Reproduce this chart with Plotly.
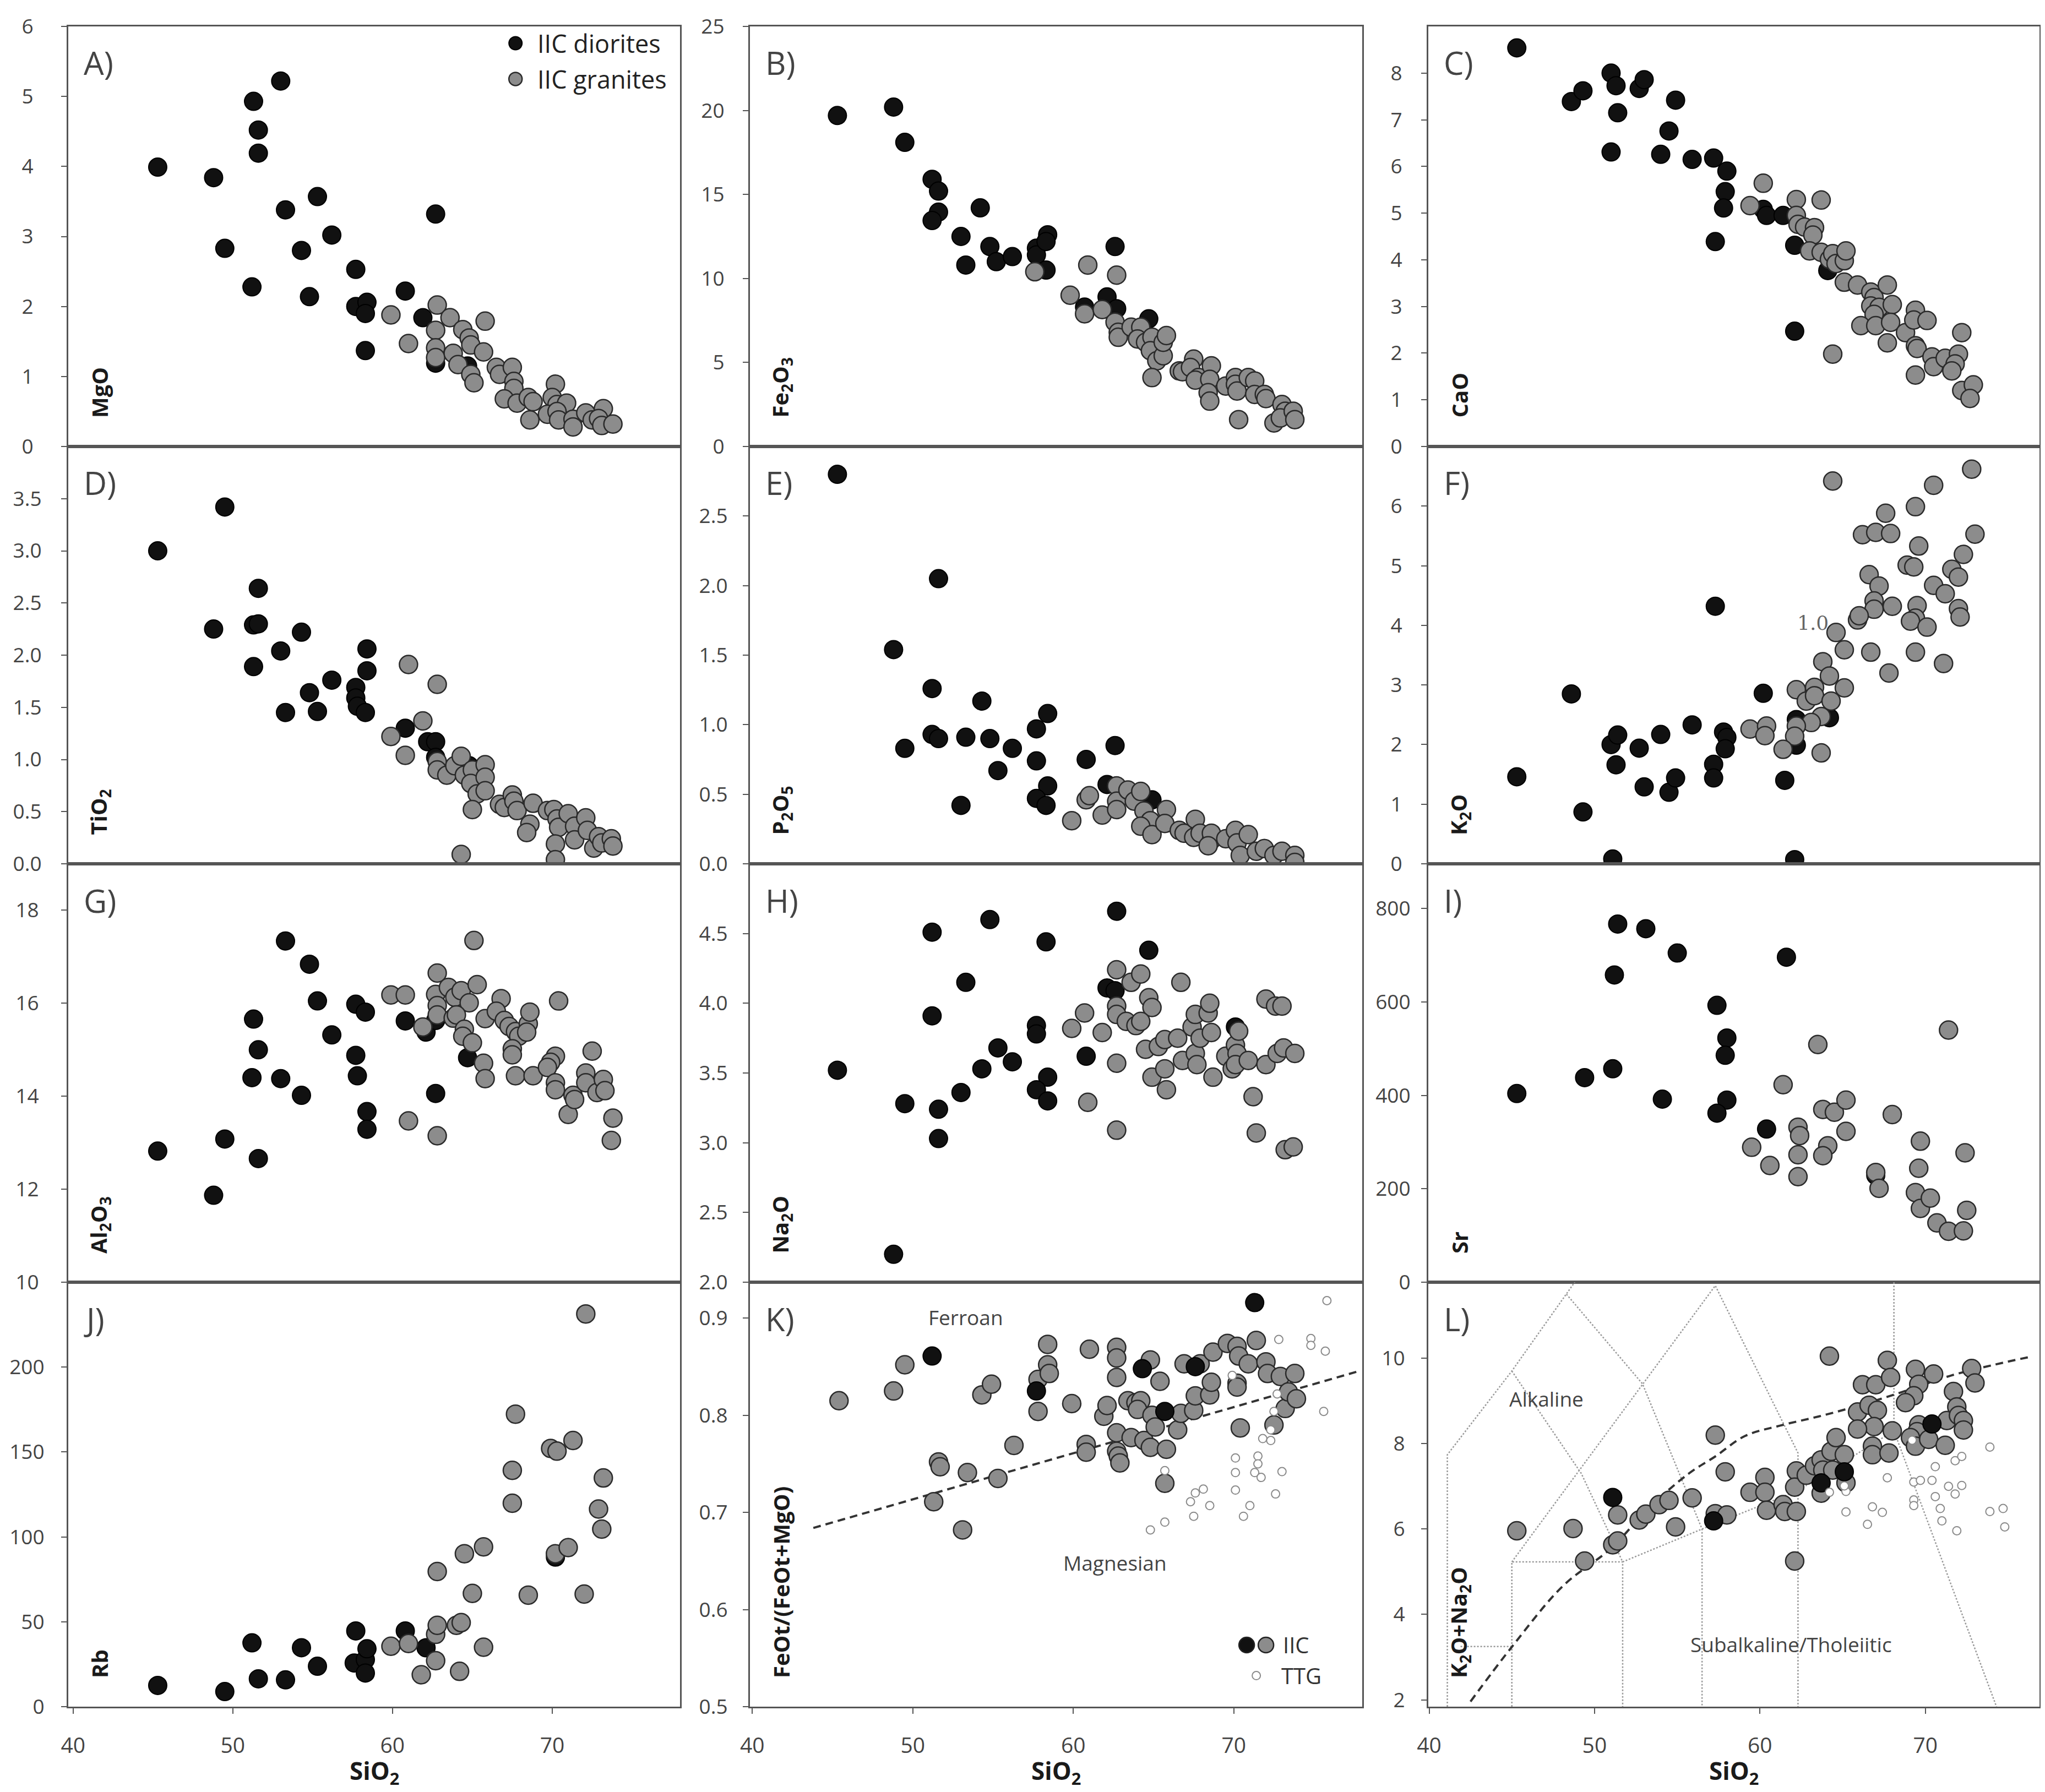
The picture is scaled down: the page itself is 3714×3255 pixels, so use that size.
import plotly.graph_objects as go

W, H = 3714, 3255

# ---------------- data ----------------
# A) MgO
mgo_dio_si = [45.3, 48.8, 49.5, 51.3, 51.6, 51.6, 51.2, 53.0, 53.3, 55.3, 54.3, 54.8, 56.2, 57.7, 57.7, 58.4, 58.3, 58.3, 60.8, 62.7, 61.9, 62.7, 64.7]
mgo_dio = [3.99, 3.84, 2.83, 4.93, 4.52, 4.19, 2.28, 5.22, 3.38, 3.57, 2.80, 2.14, 3.02, 2.53, 2.00, 2.06, 1.90, 1.37, 2.22, 3.32, 1.84, 1.19, 1.15]
mgo_gra_si = [59.9, 61.0, 62.8, 63.6, 62.7, 62.7, 62.7, 63.8, 64.4, 64.8, 64.9, 65.7, 65.8, 64.1, 64.9, 65.1, 66.5, 66.7, 67.5, 67.6,
              67.6, 67.0, 67.8, 68.5, 68.8, 68.6, 70.2, 70.0, 70.3, 70.9, 69.7, 70.3, 70.4, 71.3, 71.3, 72.1, 72.5, 73.2, 72.9, 73.1, 73.8]
mgo_gra = [1.88, 1.47, 2.02, 1.84, 1.66, 1.41, 1.27, 1.33, 1.67, 1.55, 1.45, 1.35, 1.79, 1.17, 1.03, 0.91, 1.13, 1.03, 1.13, 0.93,
           0.83, 0.68, 0.62, 0.70, 0.64, 0.38, 0.89, 0.70, 0.60, 0.62, 0.46, 0.50, 0.38, 0.39, 0.28, 0.48, 0.38, 0.54, 0.40, 0.30, 0.32]

# B) Fe2O3
fe_dio_si = [45.3, 48.8, 49.5, 51.2, 51.6, 51.6, 51.2, 54.2, 53.0, 53.3, 54.8, 55.2, 56.2, 57.7, 57.7, 58.4, 58.3, 58.3, 62.6, 62.1, 62.7, 60.7, 64.7]
fe_dio = [19.7, 20.2, 18.1, 15.9, 15.2, 13.95, 13.45, 14.2, 12.5, 10.8, 11.9, 11.0, 11.3, 11.8, 11.4, 12.6, 12.2, 10.5, 11.9, 8.9, 8.2, 8.3, 7.6]
fe_gra_si = [57.6, 60.9, 62.7, 59.8, 60.7, 61.8, 62.6, 62.8, 62.8, 63.6, 64.2, 64.0, 64.5, 64.9, 64.8, 65.2, 65.6, 65.6, 65.8, 64.9,
             66.6, 66.8, 67.5, 67.3, 67.8, 67.6, 68.6, 68.5, 68.4, 68.5, 69.5, 70.1, 70.1, 70.2, 70.9, 71.3, 71.3, 71.9, 72.0, 70.3,
             72.5, 73.0, 73.2, 72.9, 73.7, 73.8]
fe_gra = [10.4, 10.8, 10.2, 9.0, 7.9, 8.15, 7.4, 6.8, 6.5, 7.1, 7.1, 6.4, 6.2, 6.5, 5.7, 5.1, 5.4, 6.2, 6.6, 4.1,
          4.5, 4.45, 5.2, 4.7, 4.1, 3.95, 4.8, 4.0, 3.2, 2.7, 3.6, 4.1, 3.7, 3.3, 4.1, 3.9, 3.1, 3.1, 2.85, 1.6,
          1.4, 2.5, 2.1, 1.7, 2.1, 1.6]

# C) CaO
cao_dio_si = [45.3, 48.6, 49.3, 51.0, 51.3, 51.4, 51.0, 52.7, 53.0, 54.9, 54.5, 54.0, 55.9, 57.2, 58.0, 57.9, 57.8, 57.3, 60.2, 60.4, 61.4, 62.1, 64.1, 62.1]
cao_dio = [8.54, 7.39, 7.62, 8.0, 7.73, 7.15, 6.31, 7.67, 7.86, 7.42, 6.76, 6.26, 6.15, 6.18, 5.9, 5.46, 5.11, 4.39, 5.08, 4.95, 4.95, 4.31, 3.77, 2.47]
cao_gra_si = [60.2, 59.4, 62.2, 63.7, 62.2, 62.3, 62.7, 63.3, 63.2, 63.0, 63.7, 64.2, 64.4, 64.6, 65.1, 65.2, 65.1, 65.9, 66.7, 66.9,
              66.7, 67.2, 67.7, 68.0, 66.9, 66.1, 67.0, 67.9, 68.8, 67.7, 69.4, 69.3, 70.1, 69.4, 69.5, 64.4, 69.4, 70.4, 70.5, 71.2,
              72.0, 71.8, 71.6, 72.2, 72.2, 72.9, 72.7]
cao_gra = [5.64, 5.16, 5.29, 5.28, 4.95, 4.76, 4.70, 4.69, 4.53, 4.19, 4.16, 4.01, 4.13, 3.92, 3.98, 4.19, 3.52, 3.46, 3.31, 3.19,
           3.01, 2.98, 3.46, 3.04, 2.83, 2.59, 2.59, 2.66, 2.44, 2.22, 2.92, 2.71, 2.70, 2.16, 2.10, 1.98, 1.53, 1.92, 1.71, 1.89,
           1.98, 1.77, 1.62, 2.44, 1.20, 1.32, 1.03]

# D) TiO2
ti_dio_si = [45.3, 49.5, 48.8, 51.6, 51.3, 51.6, 51.3, 53.0, 54.3, 53.3, 54.8, 55.3, 56.2, 57.7, 57.7, 57.8, 58.3, 58.4, 58.4, 60.8, 62.2, 62.7, 62.7, 64.8]
ti_dio = [3.0, 3.42, 2.25, 2.64, 2.29, 2.30, 1.89, 2.04, 2.22, 1.45, 1.64, 1.46, 1.76, 1.69, 1.59, 1.51, 1.45, 2.06, 1.85, 1.30, 1.17, 1.17, 1.02, 0.94]
ti_gra_si = [61.0, 62.8, 61.9, 59.9, 60.8, 62.8, 62.8, 63.4, 63.9, 64.3, 64.5, 65.0, 64.9, 65.3, 65.8, 65.8, 65.8, 65.0, 64.3, 66.7,
             67.0, 67.5, 67.6, 67.8, 68.8, 68.6, 68.4, 69.7, 70.1, 70.3, 70.4, 71.0, 70.2, 70.2, 71.4, 71.4, 72.1, 72.2, 72.6, 72.9,
             73.1, 73.7, 73.8]
ti_gra = [1.91, 1.72, 1.37, 1.22, 1.04, 0.98, 0.90, 0.85, 0.94, 1.03, 0.85, 0.90, 0.77, 0.67, 0.95, 0.83, 0.70, 0.52, 0.09, 0.57,
          0.54, 0.66, 0.60, 0.51, 0.58, 0.38, 0.30, 0.51, 0.52, 0.43, 0.35, 0.48, 0.19, 0.04, 0.36, 0.23, 0.44, 0.32, 0.15, 0.26,
          0.20, 0.24, 0.17]

# E) P2O5
p_dio_si = [45.3, 48.8, 49.5, 51.2, 51.6, 51.2, 51.6, 53.0, 53.3, 54.3, 54.8, 55.3, 56.2, 57.7, 57.7, 58.4, 58.4, 57.7, 58.3, 60.8, 62.6, 62.1, 64.9]
p_dio = [2.80, 1.54, 0.83, 1.26, 2.05, 0.93, 0.90, 0.42, 0.91, 1.17, 0.90, 0.67, 0.83, 0.97, 0.74, 1.08, 0.56, 0.47, 0.42, 0.75, 0.85, 0.57, 0.46]
p_gra_si = [59.9, 60.8, 61.0, 61.8, 62.7, 62.7, 62.7, 63.4, 63.8, 64.2, 64.4, 64.8, 64.2, 64.9, 65.8, 65.7, 66.6, 66.9, 67.6, 67.5,
            67.9, 68.6, 68.6, 68.4, 69.5, 70.1, 70.2, 70.4, 70.9, 71.4, 71.9, 72.5, 73.0, 73.8, 73.8]
p_gra = [0.31, 0.46, 0.49, 0.35, 0.56, 0.45, 0.39, 0.53, 0.45, 0.52, 0.38, 0.31, 0.27, 0.21, 0.39, 0.29, 0.24, 0.22, 0.32, 0.19,
         0.22, 0.17, 0.22, 0.13, 0.18, 0.24, 0.15, 0.06, 0.21, 0.09, 0.11, 0.06, 0.09, 0.06, 0.01]

# F) K2O
k_dio_si = [45.3, 48.6, 49.3, 51.0, 51.4, 51.3, 51.1, 52.7, 53.0, 54.0, 54.5, 54.9, 55.9, 57.3, 57.2, 57.2, 57.8, 58.0, 57.9, 60.2, 61.5, 62.2, 62.1, 64.2, 62.2]
k_dio = [1.46, 2.85, 0.87, 2.0, 2.16, 1.66, 0.08, 1.94, 1.29, 2.17, 1.20, 1.44, 2.33, 4.32, 1.67, 1.44, 2.21, 2.12, 1.93, 2.86, 1.40, 1.99, 0.07, 2.45, 2.42]
k_gra_si = [64.4, 72.8, 70.5, 69.4, 67.6, 66.2, 67.0, 67.9, 73.0, 69.6, 68.9, 69.3, 72.3, 66.6, 67.2, 71.6, 72.0, 70.5, 71.2, 66.9,
            66.9, 68.0, 69.5, 69.4, 69.1, 70.1, 72.0, 72.1, 65.9, 66.0, 64.6, 65.1, 66.7, 69.4, 71.1, 67.8, 63.8, 64.2, 65.1, 63.3,
            62.2, 62.8, 63.3, 64.3, 63.7, 63.1, 62.2, 62.1, 59.4, 60.4, 60.3, 61.4, 63.7]
k_gra = [6.42, 6.62, 6.35, 5.99, 5.88, 5.52, 5.56, 5.54, 5.53, 5.33, 5.01, 4.98, 5.19, 4.85, 4.66, 4.94, 4.81, 4.67, 4.53, 4.41,
         4.27, 4.32, 4.33, 4.12, 4.07, 3.97, 4.28, 4.14, 4.09, 4.16, 3.88, 3.59, 3.55, 3.55, 3.36, 3.20, 3.39, 3.15, 2.95, 2.96,
         2.92, 2.73, 2.82, 2.73, 2.47, 2.37, 2.31, 2.14, 2.26, 2.31, 2.15, 1.92, 1.86]

# G) Al2O3
al_dio_si = [45.3, 48.8, 49.5, 51.3, 51.6, 51.2, 51.6, 53.3, 53.0, 54.3, 54.8, 55.3, 56.2, 57.7, 58.3, 57.7, 57.8, 58.4, 58.4, 60.8, 62.1, 62.7, 62.7, 64.7]
al_dio = [12.82, 11.87, 13.08, 15.66, 15.0, 14.40, 12.66, 17.34, 14.38, 14.02, 16.84, 16.05, 15.32, 15.98, 15.81, 14.88, 14.44, 13.67, 13.29, 15.62, 15.38, 15.63, 14.06, 14.83]
al_gra_si = [59.9, 60.8, 61.9, 61.0, 62.8, 62.7, 62.8, 62.8, 62.8, 63.5, 63.9, 64.3, 64.8, 63.8, 64.0, 64.5, 64.4, 65.0, 65.1, 65.3,
             65.8, 65.7, 65.8, 66.8, 66.5, 67.0, 67.3, 67.7, 67.9, 68.5, 68.6, 68.4, 67.5, 67.5, 67.7, 68.8, 70.4, 70.2, 69.9, 69.7,
             70.2, 70.2, 71.0, 71.3, 71.4, 72.1, 72.1, 72.5, 72.8, 73.2, 73.3, 73.8, 73.7]
al_gra = [16.18, 16.18, 15.49, 13.47, 16.65, 16.19, 15.95, 15.75, 13.15, 16.34, 16.13, 16.27, 16.01, 15.68, 15.75, 15.44, 15.29, 15.15, 17.35, 16.40,
          15.67, 14.71, 14.38, 16.10, 15.83, 15.63, 15.50, 15.39, 15.29, 15.56, 15.81, 15.38, 15.02, 14.89, 14.44, 14.44, 16.05, 14.86, 14.73, 14.62,
          14.29, 14.14, 13.61, 14.02, 13.93, 14.50, 14.29, 14.97, 14.08, 14.36, 14.12, 13.53, 13.05]

# H) Na2O
na_dio_si = [45.3, 48.8, 49.5, 51.2, 51.2, 51.6, 51.6, 53.0, 53.3, 54.3, 54.8, 55.3, 56.2, 57.7, 57.7, 58.3, 58.4, 57.7, 58.4, 60.8, 62.1, 62.6, 62.7, 64.7, 70.1]
na_dio = [3.52, 2.20, 3.28, 4.51, 3.91, 3.24, 3.03, 3.36, 4.15, 3.53, 4.60, 3.68, 3.58, 3.84, 3.78, 4.44, 3.47, 3.38, 3.30, 3.62, 4.11, 4.09, 4.66, 4.38, 3.83]
na_gra_si = [59.9, 60.7, 61.8, 60.9, 62.7, 62.7, 62.7, 62.7, 62.7, 63.6, 64.2, 64.7, 64.9, 63.3, 63.9, 64.2, 64.5, 65.3, 65.7, 64.9,
             65.7, 65.8, 66.7, 66.5, 66.8, 67.4, 67.6, 67.6, 67.7, 67.9, 68.4, 68.5, 68.6, 68.7, 69.5, 69.9, 70.1, 70.2, 70.1, 70.3,
             70.9, 71.2, 71.4, 72.0, 72.6, 73.0, 72.0, 72.7, 73.1, 73.8, 73.2, 73.7]
na_gra = [3.82, 3.93, 3.79, 3.29, 4.24, 3.98, 3.92, 3.57, 3.09, 4.15, 4.21, 4.04, 3.97, 3.87, 3.84, 3.87, 3.67, 3.69, 3.74, 3.47,
          3.53, 3.38, 4.15, 3.75, 3.59, 3.83, 3.92, 3.64, 3.56, 3.75, 3.93, 4.00, 3.79, 3.47, 3.62, 3.53, 3.70, 3.64, 3.56, 3.80,
          3.59, 3.33, 3.07, 4.03, 3.98, 3.98, 3.56, 3.64, 3.68, 3.64, 2.95, 2.97]

# I) Sr (ppm)
sr_dio_si = [45.3, 49.4, 51.1, 51.2, 51.4, 53.1, 54.1, 55.0, 57.4, 58.0, 57.9, 58.0, 57.4, 60.4, 61.6, 67.0]
sr_dio = [404, 438, 457, 658, 767, 757, 392, 705, 593, 523, 486, 390, 362, 328, 696, 229]
sr_gra_si = [59.5, 60.6, 61.4, 62.3, 62.4, 62.3, 62.3, 63.5, 63.8, 64.5, 65.2, 65.2, 64.1, 63.8, 67.0, 67.2, 68.0, 69.7, 69.6, 69.4,
             69.7, 70.3, 70.7, 71.4, 71.4, 72.3, 72.4, 72.5]
sr_gra = [289, 250, 423, 332, 314, 273, 226, 509, 370, 364, 390, 323, 292, 271, 235, 201, 359, 302, 244, 192,
          158, 180, 127, 540, 109, 110, 277, 154]

# J) Rb (ppm)
rb_dio_si = [45.3, 49.5, 51.2, 51.6, 53.3, 54.3, 55.3, 57.7, 57.6, 58.3, 58.4, 58.3, 60.8, 62.1, 70.2]
rb_dio = [12.5, 8.9, 37.6, 16.4, 15.8, 34.7, 23.8, 44.6, 25.7, 27.7, 34.1, 19.8, 44.6, 34.7, 88.1]
rb_gra_si = [59.9, 61.0, 61.8, 62.7, 62.7, 62.8, 62.8, 64.0, 64.3, 64.2, 64.5, 65.0, 65.7, 65.7, 67.5, 67.5, 67.7, 68.5, 69.9, 70.3,
             70.2, 71.3, 71.0, 72.1, 72.0, 72.9, 73.1, 73.2]
rb_gra = [35.6, 37.2, 18.8, 27.1, 42.6, 47.9, 79.6, 47.9, 49.5, 20.8, 90.1, 66.7, 94.1, 35.0, 139.2, 119.8, 172.3, 65.7, 152.1, 150.5,
          90.1, 156.8, 93.7, 231.3, 66.3, 116.4, 104.6, 134.7]

# K) FeOt/(FeOt+MgO)
fen_dio_si = [51.2, 57.7, 64.3, 65.7, 67.6, 71.3]
fen_dio = [0.861, 0.825, 0.848, 0.804, 0.850, 0.916]
fen_gra_si = [45.4, 48.8, 49.5, 51.3, 51.6, 51.7, 53.1, 53.4, 54.3, 54.9, 55.3, 56.3, 57.8, 57.8, 58.4, 58.4, 58.5, 59.9, 60.8, 60.8,
              61.0, 61.9, 62.1, 62.7, 62.7, 62.7, 62.7, 62.7, 62.8, 62.9, 63.4, 63.6, 63.9, 64.2, 64.0, 64.4, 64.8, 64.9, 64.8, 65.1,
              65.4, 65.8, 65.7, 66.5, 66.7, 66.9, 67.5, 67.6, 67.9, 68.5, 68.6, 68.7, 69.6, 70.2, 70.3, 70.2, 70.2, 70.4, 70.9, 71.4,
              72.0, 72.1, 72.5, 72.9, 73.2, 73.4, 73.8, 73.9]
fen_gra = [0.815, 0.825, 0.852, 0.711, 0.752, 0.747, 0.682, 0.741, 0.821, 0.832, 0.735, 0.769, 0.837, 0.804, 0.873, 0.852, 0.843, 0.812, 0.770, 0.762,
           0.868, 0.799, 0.810, 0.870, 0.859, 0.839, 0.782, 0.763, 0.758, 0.751, 0.815, 0.777, 0.813, 0.815, 0.806, 0.774, 0.857, 0.800, 0.767, 0.788,
           0.835, 0.765, 0.730, 0.785, 0.802, 0.853, 0.805, 0.820, 0.853, 0.821, 0.834, 0.865, 0.874, 0.871, 0.861, 0.833, 0.829, 0.787, 0.853, 0.877,
           0.855, 0.843, 0.790, 0.840, 0.807, 0.824, 0.843, 0.817]
fen_ttg_si = [64.8, 65.7, 65.7, 67.3, 67.6, 68.1, 67.5, 68.5, 69.9, 70.1, 70.1, 70.1, 70.6, 71.0, 71.5, 71.5, 71.3, 71.7, 71.8, 72.3,
              72.3, 72.5, 72.7, 72.8, 73.0, 72.6, 74.8, 74.8, 75.7, 75.8, 75.6]
fen_ttg = [0.682, 0.690, 0.743, 0.711, 0.720, 0.724, 0.696, 0.707, 0.841, 0.756, 0.741, 0.723, 0.696, 0.707, 0.758, 0.750, 0.741, 0.736, 0.776, 0.774,
           0.785, 0.804, 0.822, 0.878, 0.742, 0.719, 0.879, 0.872, 0.866, 0.918, 0.804]
# ferroan / magnesian divide
fen_line_si = [43.8, 77.7]
fen_line = [0.684, 0.845]

# L) K2O+Na2O (TAS)
alk_dio_si = [51.1, 57.2, 63.7, 65.1, 70.4]
alk_dio = [6.74, 6.19, 7.08, 7.34, 8.46]
alk_gra_si = [45.3, 48.7, 49.4, 51.1, 51.4, 51.4, 52.7, 53.1, 53.9, 54.5, 54.9, 55.9, 57.3, 57.9, 57.3, 58.0, 59.4, 60.3, 60.3, 60.4,
              61.4, 61.5, 62.2, 62.1, 62.2, 62.1, 62.8, 63.3, 63.7, 63.8, 64.3, 64.4, 63.7, 64.2, 64.6, 65.1, 65.2, 65.9, 66.2, 67.0,
              66.6, 67.1, 66.9, 65.9, 66.8, 66.8, 67.7, 67.9, 68.0, 67.8, 69.4, 69.6, 69.3, 68.8, 69.6, 69.5, 69.1, 69.4, 70.2, 70.5,
              71.2, 71.7, 71.3, 71.9, 72.0, 72.3, 72.3, 72.8, 73.0]
alk_gra = [5.96, 6.01, 5.25, 5.63, 5.72, 6.33, 6.21, 6.35, 6.57, 6.67, 6.05, 6.73, 8.20, 7.34, 6.36, 6.33, 6.86, 7.21, 6.86, 6.44,
           6.57, 6.41, 6.41, 5.25, 7.36, 6.98, 7.26, 7.48, 7.62, 7.38, 7.82, 7.38, 6.84, 10.05, 8.14, 7.74, 7.08, 8.74, 9.38, 9.38,
           8.90, 8.78, 8.40, 8.34, 7.94, 7.74, 9.95, 9.55, 8.30, 7.78, 9.74, 9.39, 9.12, 8.96, 8.44, 8.28, 8.14, 7.94, 8.10, 9.63,
           7.96, 9.22, 8.54, 8.86, 8.66, 8.54, 8.32, 9.76, 9.42]
alk_ttg_si = [65.2, 65.2, 64.2, 65.1, 66.5, 66.8, 67.4, 67.7, 69.3, 69.7, 70.4, 69.3, 69.3, 70.6, 70.6, 70.9, 71.0, 71.4, 71.8, 72.2,
              71.9, 71.8, 72.2, 69.2, 73.9, 73.9, 74.7, 74.8]
alk_ttg = [6.88, 6.40, 6.86, 7.01, 6.11, 6.52, 6.39, 7.20, 7.10, 7.14, 7.14, 6.68, 6.55, 7.46, 6.76, 6.48, 6.19, 7.00, 6.82, 7.02,
           5.96, 7.60, 7.70, 8.08, 7.92, 6.41, 6.48, 6.05]
# alkaline / subalkaline curve
ib_si = [42.5, 45.0, 48.1, 51.0, 53.3, 55.7, 57.3, 59.1, 61.2, 63.8, 66.4, 69.0, 71.6, 74.2, 76.3]
ib_alk = [1.96, 3.24, 4.67, 5.55, 6.5, 7.3, 7.7, 8.18, 8.42, 8.66, 8.94, 9.26, 9.6, 9.85, 10.03]
# TAS field boundaries (None splits segments)
tas_si = [41.1, 41.1, 45.0, 48.3, 48.8, None,
          41.9, 45.0, None,
          45.0, 45.0, 51.7, 51.7, None,
          45.0, 57.3, 62.3, 62.3, None,
          45.0, 49.2, 51.7, None,
          48.3, 52.9, 56.5, 56.5, None,
          51.7, 56.5, 62.3, 68.1, None,
          68.1, 68.1, 74.3]
tas_alk = [1.84, 7.74, 9.70, 11.5, 11.78, None,
           3.25, 3.25, None,
           1.84, 5.23, 5.23, 1.84, None,
           5.23, 11.7, 7.78, 1.84, None,
           9.70, 7.3, 5.23, None,
           11.5, 9.4, 6.0, 1.84, None,
           5.23, 6.0, 6.9, 8.3, None,
           11.78, 8.3, 1.84]

# ---------------- layout geometry (pixels) ----------------
COLS = [(116, 1227), (1354, 2466), (2586, 3696)]
ROWS = [(40, 803), (803, 1561), (1561, 2321), (2321, 3092)]
XRANGES = [[39.7, 78], [39.85, 78], [39.95, 76.9]]

FONT = "Open Sans"
AXCOL = "#555555"
DIO = dict(color="#111111", size=33, line=dict(color="#000000", width=2))
GRA = dict(color="#8c8c8c", size=33, line=dict(color="#2a2a2a", width=2.5))
TTG = dict(color="white", size=15, line=dict(color="#8a8a8a", width=2))

# letter, y title, y range, y ticks, tick format, label standoff, series (x, y, marker) in draw order
panels = [
    ("A", "MgO", [0, 6], [0, 1, 2, 3, 4, 5, 6], "", 43, [(mgo_dio_si, mgo_dio, DIO), (mgo_gra_si, mgo_gra, GRA)]),
    ("B", "Fe<sub>2</sub>O<sub>3</sub>", [0, 25], [0, 5, 10, 15, 20, 25], "", 26, [(fe_dio_si, fe_dio, DIO), (fe_gra_si, fe_gra, GRA)]),
    ("C", "CaO", [0, 9], [0, 1, 2, 3, 4, 5, 6, 7, 8], "", 27, [(cao_dio_si, cao_dio, DIO), (cao_gra_si, cao_gra, GRA)]),
    ("D", "TiO<sub>2</sub>", [0, 4], [0, 0.5, 1, 1.5, 2, 2.5, 3, 3.5], ".1f", 28, [(ti_dio_si, ti_dio, DIO), (ti_gra_si, ti_gra, GRA)]),
    ("E", "P<sub>2</sub>O<sub>5</sub>", [0, 3], [0, 0.5, 1, 1.5, 2, 2.5], ".1f", 20, [(p_dio_si, p_dio, DIO), (p_gra_si, p_gra, GRA)]),
    ("F", "K<sub>2</sub>O", [0, 7], [0, 1, 2, 3, 4, 5, 6], "", 27, [(k_dio_si, k_dio, DIO), (k_gra_si, k_gra, GRA)]),
    ("G", "Al<sub>2</sub>O<sub>3</sub>", [10, 19], [10, 12, 14, 16, 18], "", 33, [(al_dio_si, al_dio, DIO), (al_gra_si, al_gra, GRA)]),
    ("H", "Na<sub>2</sub>O", [2, 5], [2, 2.5, 3, 3.5, 4, 4.5], ".1f", 20, [(na_dio_si, na_dio, DIO), (na_gra_si, na_gra, GRA)]),
    ("I", "Sr", [0, 896], [0, 200, 400, 600, 800], "", 12, [(sr_dio_si, sr_dio, DIO), (sr_gra_si, sr_gra, GRA)]),
    ("J", "Rb", [0, 250], [0, 50, 100, 150, 200], "", 23, [(rb_dio_si, rb_dio, DIO), (rb_gra_si, rb_gra, GRA)]),
    ("K", "FeOt/(FeOt+MgO)", [0.5, 0.937], [0.5, 0.6, 0.7, 0.8, 0.9], ".1f", 20,
     [(fen_gra_si, fen_gra, GRA), (fen_dio_si, fen_dio, DIO), (fen_ttg_si, fen_ttg, TTG)]),
    ("L", "K<sub>2</sub>O+Na<sub>2</sub>O", [1.84, 11.78], [2, 4, 6, 8, 10], "", 22,
     [(alk_gra_si, alk_gra, GRA), (alk_dio_si, alk_dio, DIO), (alk_ttg_si, alk_ttg, TTG)]),
]

fig = go.Figure()
annotations = []
layout = {}

for i, (letter, ytitle, yr, yticks, yfmt, standoff, series) in enumerate(panels, start=1):
    col, row = (i - 1) % 3, (i - 1) // 3
    (x0, x1), (y0, y1) = COLS[col], ROWS[row]
    xa = "x" if i == 1 else f"x{i}"
    ya = "y" if i == 1 else f"y{i}"
    bottom = row == 3

    layout["xaxis" if i == 1 else f"xaxis{i}"] = dict(
        domain=[x0 / W, x1 / W], range=XRANGES[col], anchor=ya, automargin=False,
        showline=True, mirror=True, linecolor=AXCOL, linewidth=3,
        showgrid=False, zeroline=False,
        ticks="outside" if bottom else "", ticklen=10, tickwidth=2, tickcolor=AXCOL,
        showticklabels=bottom, tickvals=[40, 50, 60, 70], ticklabelstandoff=24,
        tickfont=dict(family=FONT, size=39, color="#444"),
    )
    layout["yaxis" if i == 1 else f"yaxis{i}"] = dict(
        domain=[1 - y1 / H, 1 - y0 / H], range=yr, anchor=xa, automargin=False,
        showline=True, mirror=True, linecolor=AXCOL, linewidth=3,
        showgrid=False, zeroline=False,
        ticks="outside", ticklen=10, tickwidth=2, tickcolor=AXCOL,
        tickvals=yticks, tickformat=yfmt, ticklabelstandoff=standoff,
        tickfont=dict(family=FONT, size=37, color="#444"),
    )

    # reference lines first so the dots sit on top
    if letter == "K":
        fig.add_trace(go.Scatter(x=fen_line_si, y=fen_line, mode="lines", xaxis=xa, yaxis=ya,
                                 line=dict(color="#333", width=4, dash="14px,9px"), hoverinfo="skip"))
    if letter == "L":
        fig.add_trace(go.Scatter(x=tas_si, y=tas_alk, mode="lines", xaxis=xa, yaxis=ya, connectgaps=False,
                                 line=dict(color="#9a9a9a", width=2.5, dash="dot"), hoverinfo="skip"))
        fig.add_trace(go.Scatter(x=ib_si, y=ib_alk, mode="lines", xaxis=xa, yaxis=ya, line_shape="spline",
                                 line=dict(color="#333", width=4, dash="14px,9px"), hoverinfo="skip"))

    for sx, sy, mk in series:
        fig.add_trace(go.Scatter(x=sx, y=sy, mode="markers", xaxis=xa, yaxis=ya, marker=mk))

    # panel letter
    annotations.append(dict(text=letter + ")", xref="paper", yref="paper",
                            x=(x0 + 26) / W, y=1 - (y0 + 66) / H, xanchor="left", yanchor="middle",
                            showarrow=False, font=dict(family=FONT, size=58, color="#444")))
    # y title inside the frame, rotated
    annotations.append(dict(text="<b>" + ytitle + "</b>", xref="paper", yref="paper", textangle=-90,
                            x=(x0 + 56) / W, y=1 - (y1 - 50) / H, xanchor="center", yanchor="bottom",
                            showarrow=False, font=dict(family=FONT, size=40, color="#1a1a1a")))
    if bottom:
        annotations.append(dict(text="<b>SiO<sub>2</sub></b>", xref="paper", yref="paper",
                                x=(x0 + x1) / 2 / W, y=1 - 3210 / H, xanchor="center", yanchor="middle",
                                showarrow=False, font=dict(family=FONT, size=44, color="#1a1a1a")))

# legend in A
leg_a = [(67.7, 5.76, DIO, "IIC diorites"), (67.7, 5.25, GRA, "IIC granites")]
for lx, ly, mk, name in leg_a:
    fig.add_trace(go.Scatter(x=[lx], y=[ly], mode="markers", xaxis="x", yaxis="y",
                             marker=dict(mk, size=24)))
    annotations.append(dict(text=name, xref="x", yref="y", x=lx + 1.3, y=ly, xanchor="left", yanchor="middle",
                            showarrow=False, font=dict(family=FONT, size=45, color="#222")))

# legend in K
fig.add_trace(go.Scatter(x=[70.8, 72.0], y=[0.5635, 0.5635], mode="markers", xaxis="x11", yaxis="y11",
                         marker=dict(color=["#111111", "#8c8c8c"], size=28, line=dict(color="#222", width=2.5))))
fig.add_trace(go.Scatter(x=[71.4], y=[0.532], mode="markers", xaxis="x11", yaxis="y11", marker=TTG))
annotations.append(dict(text="IIC", xref="x11", yref="y11", x=73.0, y=0.5635, xanchor="left", yanchor="middle",
                        showarrow=False, font=dict(family=FONT, size=40, color="#333")))
annotations.append(dict(text="TTG", xref="x11", yref="y11", x=72.9, y=0.532, xanchor="left", yanchor="middle",
                        showarrow=False, font=dict(family=FONT, size=40, color="#333")))

# field labels
for txt, xr, yr, x, y in [
    ("Ferroan", "x11", "y11", 53.3, 0.901),
    ("Magnesian", "x11", "y11", 62.6, 0.648),
    ("Alkaline", "x12", "y12", 47.1, 9.05),
    ("Subalkaline/Tholeiitic", "x12", "y12", 61.9, 3.3),
]:
    annotations.append(dict(text=txt, xref=xr, yref=yr, x=x, y=y, showarrow=False,
                            font=dict(family=FONT, size=37, color="#444")))
annotations.append(dict(text="1.0", xref="x6", yref="y6", x=63.2, y=4.04, showarrow=False,
                        font=dict(family="DejaVu Serif", size=36, color="#666")))

fig.update_layout(
    width=W, height=H, margin=dict(l=0, r=0, t=0, b=0, autoexpand=False),
    paper_bgcolor="white", plot_bgcolor="white", showlegend=False,
    annotations=annotations, **layout,
)

fig.write_html("out.html")
